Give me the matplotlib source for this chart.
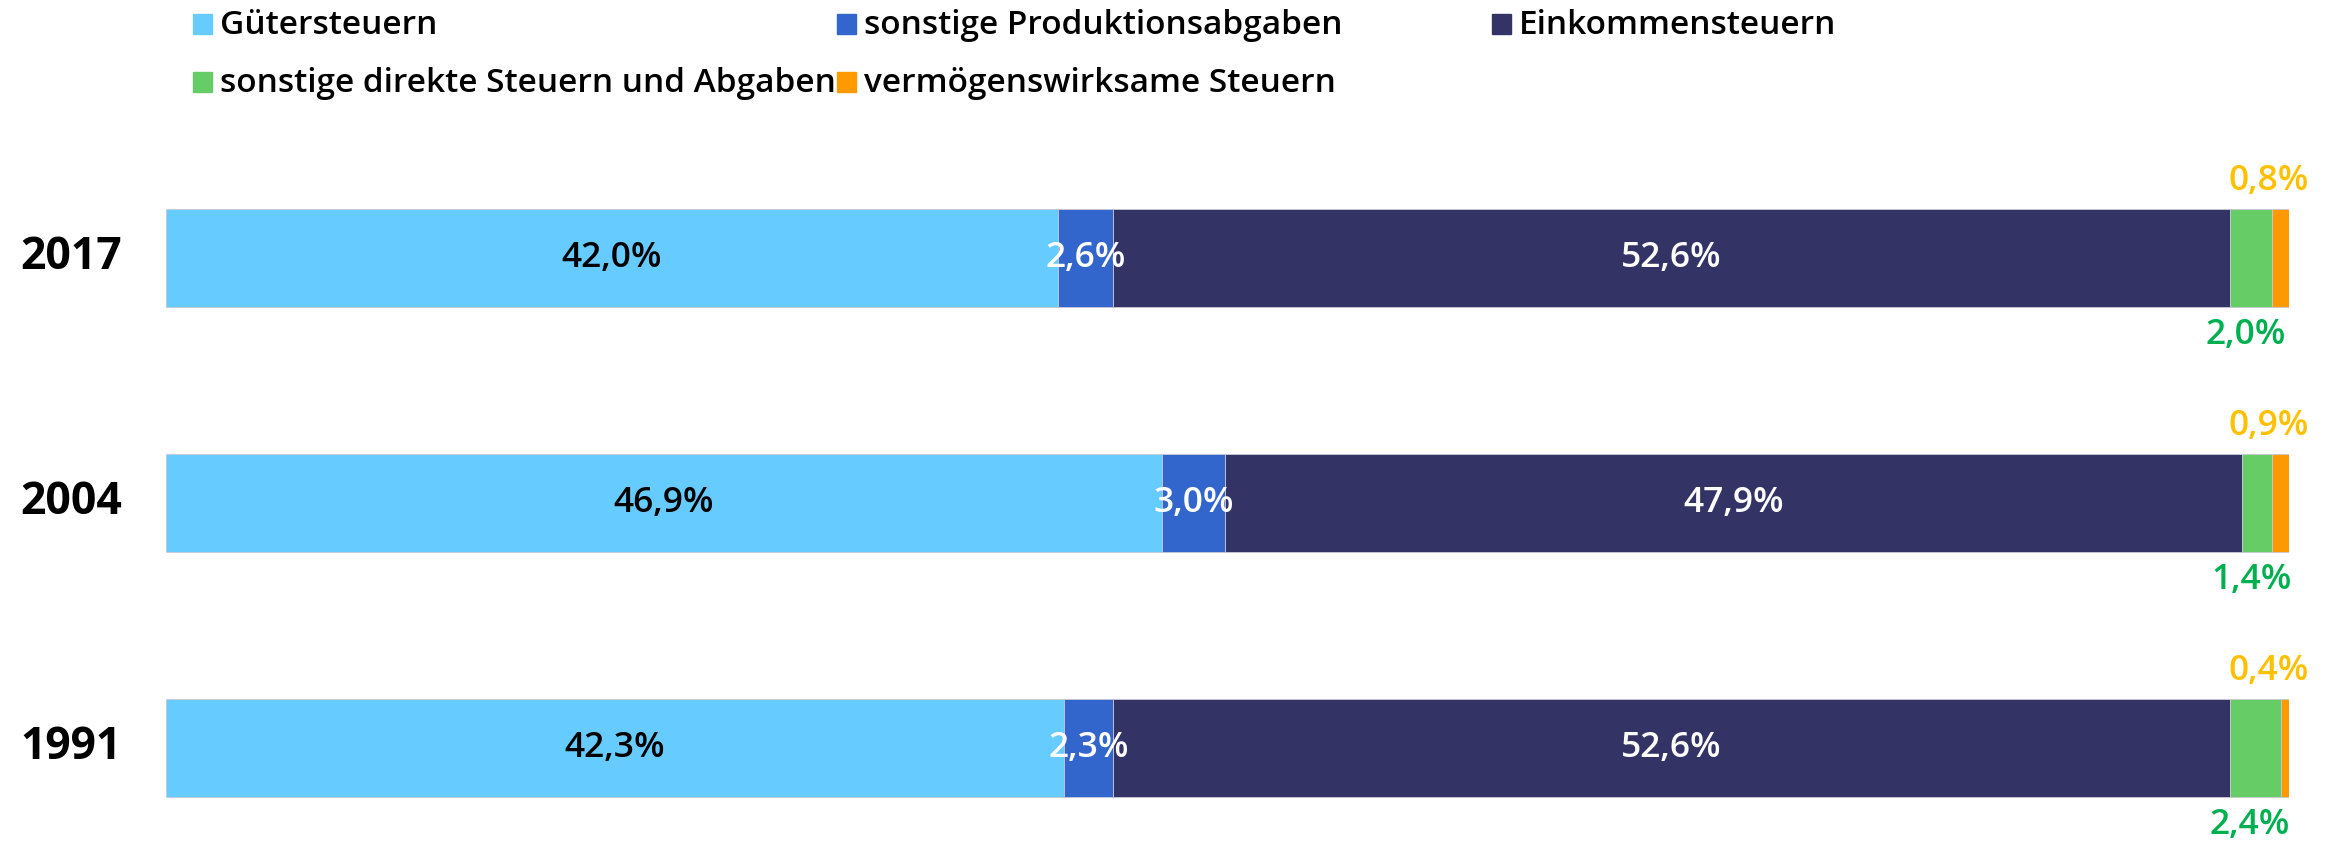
import matplotlib
matplotlib.use("Agg")
import matplotlib.pyplot as plt
from matplotlib.patches import Rectangle
import numpy as np

plt.rcParams['font.family'] = ['Open Sans', 'DejaVu Sans']

years = ["2017", "2004", "1991"]
series = ["Gütersteuern", "sonstige Produktionsabgaben", "Einkommensteuern",
          "sonstige direkte Steuern und Abgaben", "vermögenswirksame Steuern"]
guetersteuern = [42.0, 46.9, 42.3]
produktionsabgaben = [2.6, 3.0, 2.3]
einkommensteuern = [52.6, 47.9, 52.6]
sonstige_direkte = [2.0, 1.4, 2.4]
vermoegenswirksame = [0.8, 0.9, 0.4]

colors = ["#66CCFF", "#3366CC", "#333366", "#66CC66", "#FF9900"]
label_colors = ["black", "white", "white", "#00B050", "#FFC000"]

values = [guetersteuern, produktionsabgaben, einkommensteuern,
          sonstige_direkte, vermoegenswirksame]

W, H = 2340, 860
fig = plt.figure(figsize=(W / 100, H / 100), dpi=100)

# axes geometry in pixels
ax_left, ax_right = 166, 2289
ax_top, ax_bottom = 135, 855
ax = fig.add_axes([ax_left / W, 1 - ax_bottom / H, (ax_right - ax_left) / W,
                   (ax_bottom - ax_top) / H])
ax.set_xlim(0, 100)
ax.set_ylim(2.437, -0.502)
ax.axis('off')

LBL = 25.5
ypos = np.arange(len(years))
bar_h = 0.4
left = np.zeros(len(years))
for i, (vals, col) in enumerate(zip(values, colors)):
    vals = np.array(vals)
    ax.barh(ypos, vals, left=left, height=bar_h, color=col,
            edgecolor='#c8c8d4', linewidth=0.6)
    for j, v in enumerate(vals):
        txt = f"{v:.1f}%".replace('.', ',')
        cx = left[j] + v / 2
        if i < 3:
            ax.text(cx, ypos[j], txt, ha='center', va='center', fontsize=LBL,
                    color=label_colors[i], fontweight='semibold')
        elif i == 3:
            ax.annotate(txt, (cx, ypos[j] + bar_h / 2), xytext=(-4, -20),
                        textcoords='offset points', ha='center', va='center',
                        fontsize=LBL, color=label_colors[i], fontweight='semibold')
        else:
            ax.annotate(txt, (100, ypos[j] - bar_h / 2), xytext=(14, 20),
                        textcoords='offset points', ha='right', va='center',
                        fontsize=LBL, color=label_colors[i], fontweight='semibold')
    left = left + vals

# year labels
for j, y in enumerate(years):
    ax.annotate(y, (0, ypos[j]), xycoords=('axes fraction', 'data'),
                xytext=(20 - ax_left, 0), textcoords='offset pixels',
                ha='left', va='center', fontsize=32, fontweight='bold',
                color='black')

# legend (row-wise, manual layout)
leg_pos = [(193, 24), (837, 24), (1492, 24), (193, 82), (837, 82)]
for (px, py), name, col in zip(leg_pos, series, colors):
    fig.patches.append(Rectangle((px / W, 1 - (py + 10) / H), 19 / W, 20 / H,
                                 transform=fig.transFigure, color=col))
    fig.text((px + 27) / W, 1 - (py + 1) / H, name, ha='left', va='center',
             fontsize=24, fontweight='semibold', color='black')

fig.savefig("out.png", dpi=100)
